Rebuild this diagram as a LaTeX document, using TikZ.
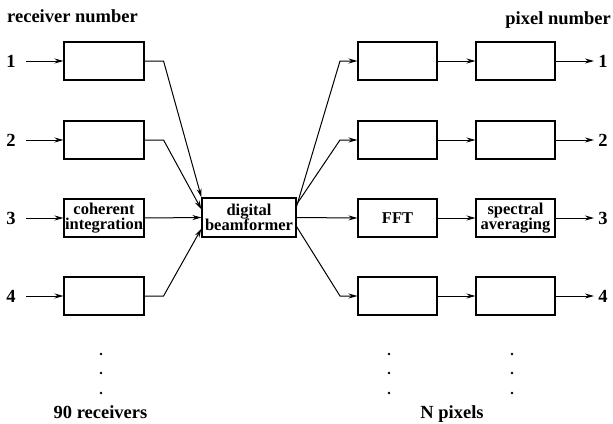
\documentclass[tikz,border=0pt]{standalone}
\usepackage{fontspec}
\setmainfont{Liberation Serif}
\usetikzlibrary{arrows.meta}
\begin{document}
\begin{tikzpicture}[x=1pt,y=-1pt,
  blk/.style={draw,line width=1.1pt,minimum width=80pt,minimum height=38pt,inner sep=1pt,align=center,font=\fontsize{16.5}{17}\selectfont\bfseries},
  lbl/.style={inner sep=0pt,font=\fontsize{18.5}{20}\selectfont\bfseries},
  conn/.style={line width=1pt,-{Stealth[length=9pt,width=5pt]}},
  plain/.style={line width=1pt}]
\useasboundingbox (0,0) rectangle (613,423);
% headers
\node[lbl,anchor=base west] (hl) at (7,23) {receiver number};
\node[lbl,anchor=base east] (hr) at (611,24) {pixel number};
% left column
\foreach \i/\y in {1/61,2/140,3/218,4/296}{
  \node[lbl] (n\i) at (11,\y) {\i};
  \coordinate (s\i) at (26,\y);
  \node[lbl] (m\i) at (603,\y) {\i};
  \coordinate (e\i) at (594,\y);
}
\node[blk] (l1) at (104,61) {};
\node[blk] (l2) at (104,140) {};
\node[blk] (l3) at (104,218) {coherent\\[-2pt]integration};
\node[blk] (l4) at (104,296) {};
\node[blk,minimum width=94pt,minimum height=39pt] (bf) at (249,217.5) {digital\\[-2pt]beamformer};
\node[blk,minimum width=79pt] (a1) at (397.5,61) {};
\node[blk,minimum width=79pt] (a2) at (397.5,140) {};
\node[blk,minimum width=79pt] (a3) at (397.5,218) {FFT};
\node[blk,minimum width=79pt] (a4) at (397.5,296) {};
\node[blk,minimum width=79pt] (b1) at (515.5,61) {};
\node[blk,minimum width=79pt] (b2) at (515.5,140) {};
\node[blk,minimum width=79pt] (b3) at (515.5,218) {spectral\\[-2pt]averaging};
\node[blk,minimum width=79pt] (b4) at (515.5,296) {};
% inputs and outputs
\foreach \i in {1,2,3,4}{
  \draw[conn] (s\i) -- (l\i.west);
  \draw[conn] (a\i.east) -- (b\i.west);
  \draw[conn] (b\i.east) -- (e\i);
}
% left to beamformer
\draw[conn] (l1.east) -- ++(19,0) -- (bf.north west);
\draw[conn] (l2.east) -- ++(19,0) -- ([yshift=-12pt]bf.north west);
\draw[conn] (l3.east) -- (bf.west);
\draw[conn] (l4.east) -- ++(19,0) -- ([yshift=9pt]bf.south west);
% beamformer to right
\draw[conn] ([yshift=-9pt]bf.north east) -- (340,61) -- (a1.west);
\draw[conn] ([yshift=-7pt]bf.north east) -- (340,140) -- (a2.west);
\draw[conn] (bf.east) -- (a3.west);
\draw[conn] ([yshift=11pt]bf.south east) -- (340,296) -- (a4.west);
% dots
\foreach \x in {101,389,512}{
  \foreach \y in {354,373,393}{
    \fill (\x,\y) circle (1.4pt);
  }
}
\node[lbl,anchor=base] (fl) at (100.5,418) {90 receivers};
\node[lbl,anchor=base] (fr) at (452,418) {N pixels};
\end{tikzpicture}
\end{document}
